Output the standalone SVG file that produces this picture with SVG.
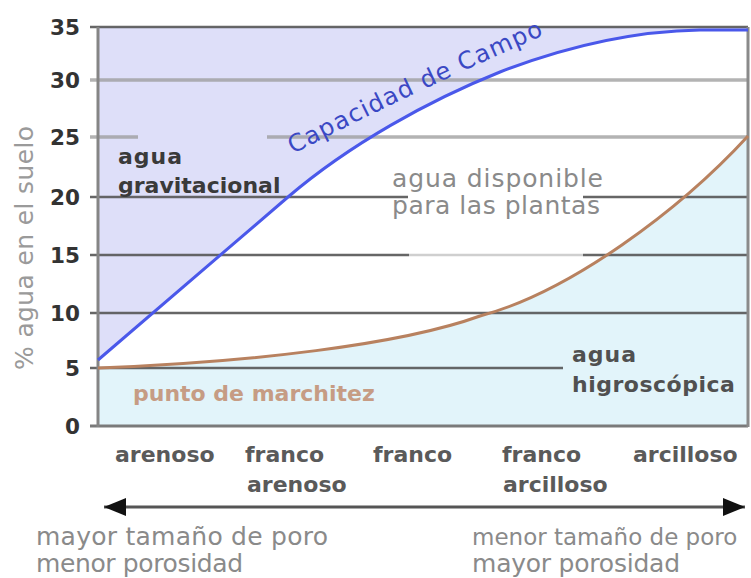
<svg xmlns="http://www.w3.org/2000/svg" width="751" height="578" viewBox="0 0 751 578">
<style>
.tick{font-family:"DejaVu Sans",sans-serif;font-weight:bold;font-size:21.5px;fill:#333;text-anchor:end}
.dark{stroke:#555;stroke-width:2.6;stroke-opacity:.9;fill:none}
.light{stroke:#9a9a9a;stroke-width:3.5;stroke-opacity:.75;fill:none}
.soil{font-family:"DejaVu Sans",sans-serif;font-weight:bold;font-size:22px;fill:#5a5a5a}
.note{font-family:"DejaVu Sans",sans-serif;font-size:25px;fill:#8a8a8a}
.zone{font-family:"DejaVu Sans",sans-serif;font-weight:bold;font-size:22px;fill:#3a3a3a}
</style>
<defs>
<marker id="ah" viewBox="0 0 22 18" refX="22" refY="9" markerWidth="22" markerHeight="18" markerUnits="userSpaceOnUse" orient="auto-start-reverse">
<path d="M0,0 L22,9 L0,18 z" fill="#111"/>
</marker>
<path id="ccPath" d="M293,154 Q420,88 560,28"/>
</defs>
<rect width="751" height="578" fill="#fff"/>

<g id="regions">
<path id="gravitacional-area" d="M98,27 L98,360 L288,197 C350,144 430,100 500,72 C570,45 640,31 700,30 L748,30 L748,27 Z" fill="#dedff9"/>
<path id="higroscopica-area" d="M98,368 C250,362 400,345 480,316 C570,292 680,210 748,136 L748,426 L98,426 Z" fill="#e2f4fa"/>
</g>

<g id="grid">
<line class="dark" x1="90" y1="27" x2="748" y2="27"/>
<line class="light" x1="90" y1="80" x2="748" y2="80"/>
<line class="light" x1="90" y1="137" x2="138" y2="137"/>
<line class="light" x1="267" y1="137" x2="748" y2="137"/>
<line class="dark" x1="90" y1="197" x2="408" y2="197"/>
<line class="dark" x1="583" y1="197" x2="748" y2="197"/>
<line class="dark" x1="90" y1="255" x2="409" y2="255"/>
<line x1="409" y1="255" x2="583" y2="255" stroke="#cfcfcf" stroke-width="2.6"/>
<line class="dark" x1="583" y1="255" x2="748" y2="255"/>
<line class="dark" x1="90" y1="313" x2="748" y2="313"/>
<line class="dark" x1="90" y1="368" x2="563" y2="368"/>
<line x1="90" y1="426" x2="748" y2="426" stroke="#7a7a7a" stroke-width="3"/>
<line x1="98" y1="27" x2="98" y2="427" stroke="#858585" stroke-width="3"/>
<line x1="748" y1="27" x2="748" y2="427" stroke="#8a8a8a" stroke-width="3"/>
</g>

<g id="y-axis">
<text class="tick" x="80" y="35">35</text>
<text class="tick" x="80" y="88">30</text>
<text class="tick" x="80" y="145">25</text>
<text class="tick" x="80" y="205">20</text>
<text class="tick" x="80" y="263">15</text>
<text class="tick" x="80" y="321">10</text>
<text class="tick" x="80" y="376">5</text>
<text class="tick" x="80" y="434">0</text>
<text transform="translate(33,248) rotate(-90)" text-anchor="middle" font-family="DejaVu Sans, sans-serif" font-size="25" fill="#9a9a9a" textLength="244" lengthAdjust="spacing">% agua en el suelo</text>
</g>

<g id="curves">
<path id="capacidad-campo" d="M98,360 L288,197 C350,144 430,100 500,72 C570,45 640,31 700,30 L748,30" fill="none" stroke="#4a58ea" stroke-width="3"/>
<path id="punto-marchitez" d="M98,368 C250,362 400,345 480,316 C570,292 680,210 748,136" fill="none" stroke="#b8815f" stroke-width="3"/>
</g>

<g id="label-capacidad">
<text font-family="DejaVu Sans, sans-serif" font-size="24" fill="#3a48c4"><textPath href="#ccPath" textLength="278" lengthAdjust="spacing">Capacidad de Campo</textPath></text>
</g>

<g id="label-gravitacional">
<text class="zone" x="118" y="164" letter-spacing="1">agua</text>
<text class="zone" x="118" y="193">gravitacional</text>
</g>

<g id="label-disponible">
<text class="note" x="392" y="187" textLength="211" lengthAdjust="spacing">agua disponible</text>
<text class="note" x="392" y="214" textLength="208" lengthAdjust="spacing">para las plantas</text>
</g>

<g id="label-marchitez">
<text class="zone" x="133" y="401" style="fill:#c69c84">punto de marchitez</text>
</g>

<g id="label-higroscopica">
<text class="zone" x="572" y="362" style="fill:#505050" letter-spacing="1">agua</text>
<text class="zone" x="572" y="392" style="fill:#505050" letter-spacing="0.5">higroscópica</text>
</g>

<g id="soil-labels">
<text class="soil" x="115" y="462">arenoso</text>
<text class="soil" x="245" y="462">franco</text>
<text class="soil" x="247" y="492">arenoso</text>
<text class="soil" x="373" y="462">franco</text>
<text class="soil" x="502" y="462">franco</text>
<text class="soil" x="503" y="492">arcilloso</text>
<text class="soil" x="633" y="462">arcilloso</text>
</g>

<g id="connectors">
<line x1="104" y1="507" x2="745" y2="507" stroke="#555" stroke-width="3" marker-start="url(#ah)" marker-end="url(#ah)"/>
</g>

<g id="scale-notes">
<text class="note" x="36" y="545" textLength="292" lengthAdjust="spacing">mayor tamaño de poro</text>
<text class="note" x="36" y="572" textLength="207" lengthAdjust="spacing">menor porosidad</text>
<text class="note" x="472" y="545" style="font-size:23px">menor tamaño de poro</text>
<text class="note" x="472" y="572" textLength="208" lengthAdjust="spacing">mayor porosidad</text>
</g>
</svg>
